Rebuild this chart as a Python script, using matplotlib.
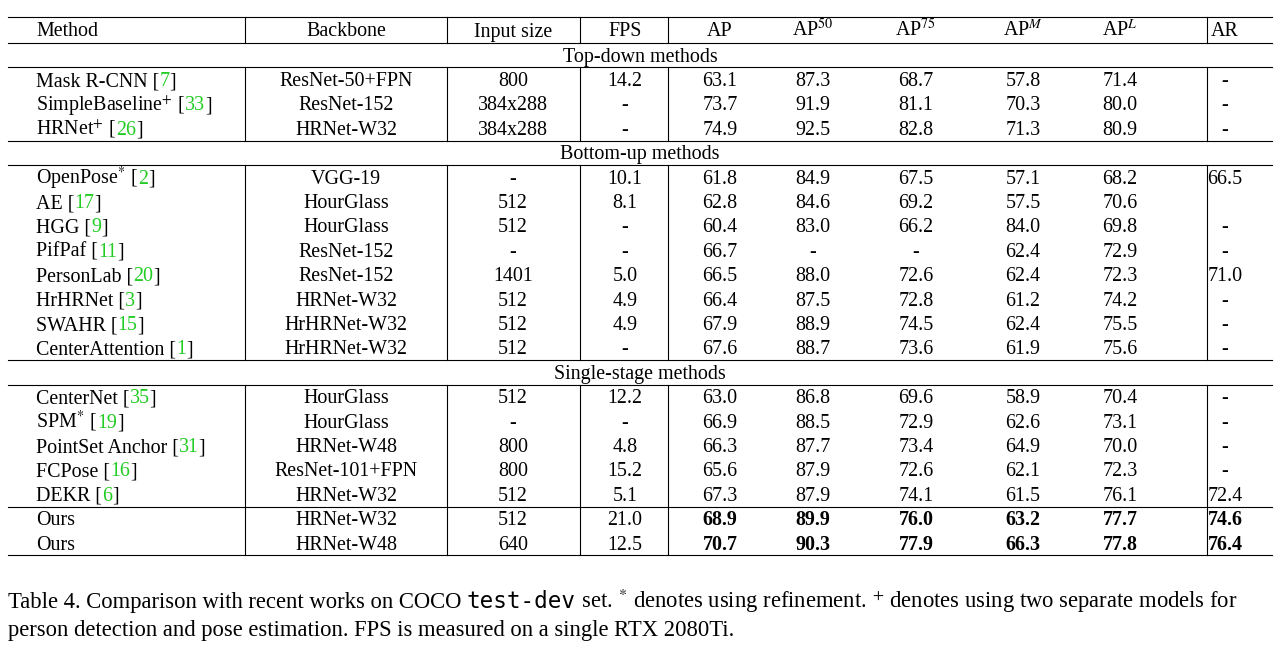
import matplotlib.pyplot as plt

plt.rcParams['font.family'] = ['Liberation Serif', 'DejaVu Serif']
plt.rcParams['mathtext.fontset'] = 'stix'

GREEN = '#22cc22'

headers = ['Method', 'Backbone', 'Input size', 'FPS', 'AP', r'AP$^{50}$', r'AP$^{75}$', r'AP$^{M}$', r'AP$^{L}$', 'AR']

sections = ['Top-down methods', 'Bottom-up methods', 'Single-stage methods', None]

# method name parts: (prefix, ref)
methods = [
    [('Mask R-CNN', '7'), (r'SimpleBaseline$^{+}$', '33'), (r'HRNet$^{+}$', '26')],
    [(r'OpenPose$^{*}$', '2'), ('AE', '17'), ('HGG', '9'), ('PifPaf', '11'), ('PersonLab', '20'),
     ('HrHRNet', '3'), ('SWAHR', '15'), ('CenterAttention', '1')],
    [('CenterNet', '35'), (r'SPM$^{*}$', '19'), ('PointSet Anchor', '31'), ('FCPose', '16'), ('DEKR', '6')],
    [('Ours', None), ('Ours', None)],
]
backbones = [
    ['ResNet-50+FPN', 'ResNet-152', 'HRNet-W32'],
    ['VGG-19', 'HourGlass', 'HourGlass', 'ResNet-152', 'ResNet-152', 'HRNet-W32', 'HrHRNet-W32', 'HrHRNet-W32'],
    ['HourGlass', 'HourGlass', 'HRNet-W48', 'ResNet-101+FPN', 'HRNet-W32'],
    ['HRNet-W32', 'HRNet-W48'],
]
input_sizes = [
    ['800', '384x288', '384x288'],
    ['-', '512', '512', '-', '1401', '512', '512', '512'],
    ['512', '-', '800', '800', '512'],
    ['512', '640'],
]
fps = [
    ['14.2', '-', '-'],
    ['10.1', '8.1', '-', '-', '5.0', '4.9', '4.9', '-'],
    ['12.2', '-', '4.8', '15.2', '5.1'],
    ['21.0', '12.5'],
]
metrics = [
    [['63.1', '87.3', '68.7', '57.8', '71.4', '-'],
     ['73.7', '91.9', '81.1', '70.3', '80.0', '-'],
     ['74.9', '92.5', '82.8', '71.3', '80.9', '-']],
    [['61.8', '84.9', '67.5', '57.1', '68.2', '66.5'],
     ['62.8', '84.6', '69.2', '57.5', '70.6', ''],
     ['60.4', '83.0', '66.2', '84.0', '69.8', '-'],
     ['66.7', '-', '-', '62.4', '72.9', '-'],
     ['66.5', '88.0', '72.6', '62.4', '72.3', '71.0'],
     ['66.4', '87.5', '72.8', '61.2', '74.2', '-'],
     ['67.9', '88.9', '74.5', '62.4', '75.5', '-'],
     ['67.6', '88.7', '73.6', '61.9', '75.6', '-']],
    [['63.0', '86.8', '69.6', '58.9', '70.4', '-'],
     ['66.9', '88.5', '72.9', '62.6', '73.1', '-'],
     ['66.3', '87.7', '73.4', '64.9', '70.0', '-'],
     ['65.6', '87.9', '72.6', '62.1', '72.3', '-'],
     ['67.3', '87.9', '74.1', '61.5', '76.1', '72.4']],
    [['68.9', '89.9', '76.0', '63.2', '77.7', '74.6'],
     ['70.7', '90.3', '77.9', '66.3', '77.8', '76.4']],
]

col_x = [36, 346, 513, 625, 720, 813, 916, 1023, 1120, 1225]
vlines = [245, 447, 580, 668, 1207]
FS = 14.4
ROW = 24.4
BASE = 6.5   # baseline offset from row centre, px

fig = plt.figure(figsize=(12.8, 6.45), dpi=100)
ax = fig.add_axes([0, 0, 1, 1])
ax.set_xlim(0, 1280)
ax.set_ylim(645, 0)
ax.axis('off')
renderer = fig.canvas.get_renderer()

def hline(y, lw=0.8):
    ax.plot([8, 1272], [y, y], color='black', lw=lw)

def vseg(y0, y1):
    for x in vlines:
        ax.plot([x, x], [y0, y1], color='black', lw=0.8)

def put(x, y, s, ha='center', bold=False, fs=FS):
    return ax.text(x, y + BASE, s, ha=ha, va='baseline', fontsize=fs,
                   fontweight='bold' if bold else 'normal')

def chain(x, y, parts, fs=FS):
    # parts: list of (text, color, family)
    for s, c, fam in parts:
        kw = {'family': fam} if fam else {}
        t = ax.text(x, y, s, ha='left', va='baseline', fontsize=fs, color=c, **kw)
        x += t.get_window_extent(renderer).width

def put_method(x, y, name, ref):
    if ref is None:
        put(x, y, name, ha='left')
        return
    chain(x, y + BASE, [(name + ' [', 'black', None), (ref, GREEN, None), (']', 'black', None)])

hline(17)
y = 30
for i, h in enumerate(headers):
    put(col_x[i], y, h, ha='left' if i == 0 else 'center')
vseg(17, 43)
hline(43)
y = 43

for s in range(4):
    if sections[s] is not None:
        put(640, y + ROW / 2, sections[s])
        y += ROW
        hline(y)
    top = y
    for r in range(len(methods[s])):
        cy = y + ROW / 2
        name, ref = methods[s][r]
        put_method(col_x[0], cy, name, ref)
        put(col_x[1], cy, backbones[s][r])
        put(col_x[2], cy, input_sizes[s][r])
        put(col_x[3], cy, fps[s][r])
        for k, v in enumerate(metrics[s][r]):
            put(col_x[4 + k], cy, v, bold=(s == 3))
        y += ROW
    vseg(top, y)
    hline(y)

# caption
cap = 16.3
chain(8, 608, [('Table 4. Comparison with recent works on COCO ', 'black', None),
               ('test-dev', 'black', 'DejaVu Sans Mono'),
               (r' set. $^{*}$ denotes using refinement. $^{+}$ denotes using two separate models for',
                'black', None)], fs=cap)
ax.text(8, 636, 'person detection and pose estimation. FPS is measured on a single RTX 2080Ti.',
        ha='left', va='baseline', fontsize=cap)

fig.savefig('out.png', dpi=100)
